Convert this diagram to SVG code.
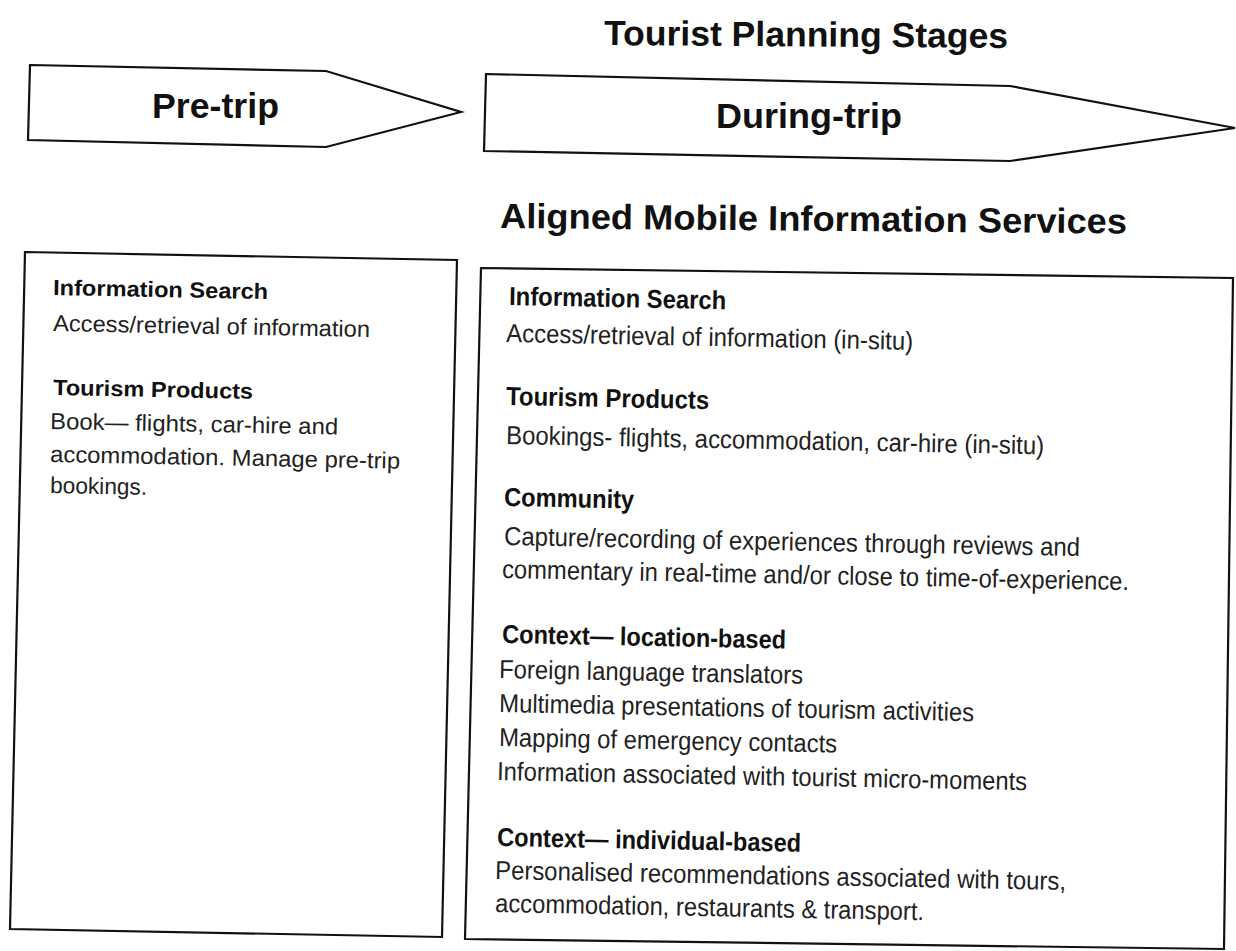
<svg xmlns="http://www.w3.org/2000/svg" width="1236" height="951" viewBox="0 0 1236 951">
<style>
.shape{fill:#fff;stroke:#111;stroke-width:2.2;stroke-linejoin:miter}
.big{font-family:"Liberation Sans",Arial,sans-serif;font-weight:bold;font-size:35px;fill:#111}
.lh{font-family:"Liberation Sans",Arial,sans-serif;font-weight:bold;font-size:22px;fill:#111}
.lb{font-family:"Liberation Sans",Arial,sans-serif;font-size:23px;fill:#222}
.rh{font-family:"Liberation Sans",Arial,sans-serif;font-weight:bold;font-size:26px;fill:#111}
.rb{font-family:"Liberation Sans",Arial,sans-serif;font-size:26px;fill:#222}
</style>
<rect width="1236" height="951" fill="#fff"/>
<g id="title">
<text class="big" x="604" y="45" textLength="404" lengthAdjust="spacingAndGlyphs" transform="rotate(0.4 604 45)">Tourist Planning Stages</text>
</g>
<g id="pre-trip">
<polygon class="shape" points="30,65 326,71 461,112 326,147 28,140"/>
<text class="big" x="152" y="118" textLength="127" lengthAdjust="spacingAndGlyphs">Pre-trip</text>
</g>
<g id="during-trip">
<polygon class="shape" points="486,74 1010,86 1235,128 1010,161 484,151"/>
<text class="big" x="716" y="128" textLength="186" lengthAdjust="spacingAndGlyphs">During-trip</text>
</g>
<g id="services-title">
<text class="big" x="500" y="228" textLength="627" lengthAdjust="spacingAndGlyphs" transform="rotate(0.5 500 228)">Aligned Mobile Information Services</text>
</g>
<g id="pre-trip-services">
<polygon class="shape" points="25,252 457,260 442,937 10,929"/>
<text class="lh" x="53" y="295" textLength="215" lengthAdjust="spacingAndGlyphs" transform="rotate(1.1 53 295)">Information Search</text>
<text class="lb" x="53" y="331" textLength="317" lengthAdjust="spacingAndGlyphs" transform="rotate(1.1 53 331)">Access/retrieval of information</text>
<text class="lh" x="53" y="395" textLength="200" lengthAdjust="spacingAndGlyphs" transform="rotate(1.1 53 395)">Tourism Products</text>
<text class="lb" x="50" y="429" textLength="288" lengthAdjust="spacingAndGlyphs" transform="rotate(1.1 50 429)">Book— flights, car-hire and</text>
<text class="lb" x="50" y="462" textLength="350" lengthAdjust="spacingAndGlyphs" transform="rotate(1.1 50 462)">accommodation. Manage pre-trip</text>
<text class="lb" x="50" y="493" textLength="97" lengthAdjust="spacingAndGlyphs" transform="rotate(1.1 50 493)">bookings.</text>
</g>
<g id="during-trip-services">
<polygon class="shape" points="481,268 1233,278 1224,949 465,939"/>
<text class="rh" x="509" y="305" textLength="217" lengthAdjust="spacingAndGlyphs" transform="rotate(1.1 509 305)">Information Search</text>
<text class="rb" x="506" y="342" textLength="407" lengthAdjust="spacingAndGlyphs" transform="rotate(1.1 506 342)">Access/retrieval of information (in-situ)</text>
<text class="rh" x="506" y="405" textLength="203" lengthAdjust="spacingAndGlyphs" transform="rotate(1.1 506 405)">Tourism Products</text>
<text class="rb" x="506" y="444" textLength="538" lengthAdjust="spacingAndGlyphs" transform="rotate(1.1 506 444)">Bookings- flights, accommodation, car-hire (in-situ)</text>
<text class="rh" x="504" y="506" textLength="130" lengthAdjust="spacingAndGlyphs" transform="rotate(1.1 504 506)">Community</text>
<text class="rb" x="504" y="545" textLength="576" lengthAdjust="spacingAndGlyphs" transform="rotate(1.1 504 545)">Capture/recording of experiences through reviews and</text>
<text class="rb" x="502" y="578" textLength="627" lengthAdjust="spacingAndGlyphs" transform="rotate(1.1 502 578)">commentary in real-time and/or close to time-of-experience.</text>
<text class="rh" x="502" y="643" textLength="284" lengthAdjust="spacingAndGlyphs" transform="rotate(1.1 502 643)">Context— location-based</text>
<text class="rb" x="499" y="678" textLength="304" lengthAdjust="spacingAndGlyphs" transform="rotate(1.1 499 678)">Foreign language translators</text>
<text class="rb" x="499" y="712" textLength="475" lengthAdjust="spacingAndGlyphs" transform="rotate(1.1 499 712)">Multimedia presentations of tourism activities</text>
<text class="rb" x="499" y="746" textLength="338" lengthAdjust="spacingAndGlyphs" transform="rotate(1.1 499 746)">Mapping of emergency contacts</text>
<text class="rb" x="497" y="780" textLength="530" lengthAdjust="spacingAndGlyphs" transform="rotate(1.1 497 780)">Information associated with tourist micro-moments</text>
<text class="rh" x="497" y="846" textLength="304" lengthAdjust="spacingAndGlyphs" transform="rotate(1.1 497 846)">Context— individual-based</text>
<text class="rb" x="495" y="879" textLength="571" lengthAdjust="spacingAndGlyphs" transform="rotate(1.1 495 879)">Personalised recommendations associated with tours,</text>
<text class="rb" x="495" y="912" textLength="429" lengthAdjust="spacingAndGlyphs" transform="rotate(1.1 495 912)">accommodation, restaurants &amp; transport.</text>
</g>
<g id="connectors"></g>
</svg>
